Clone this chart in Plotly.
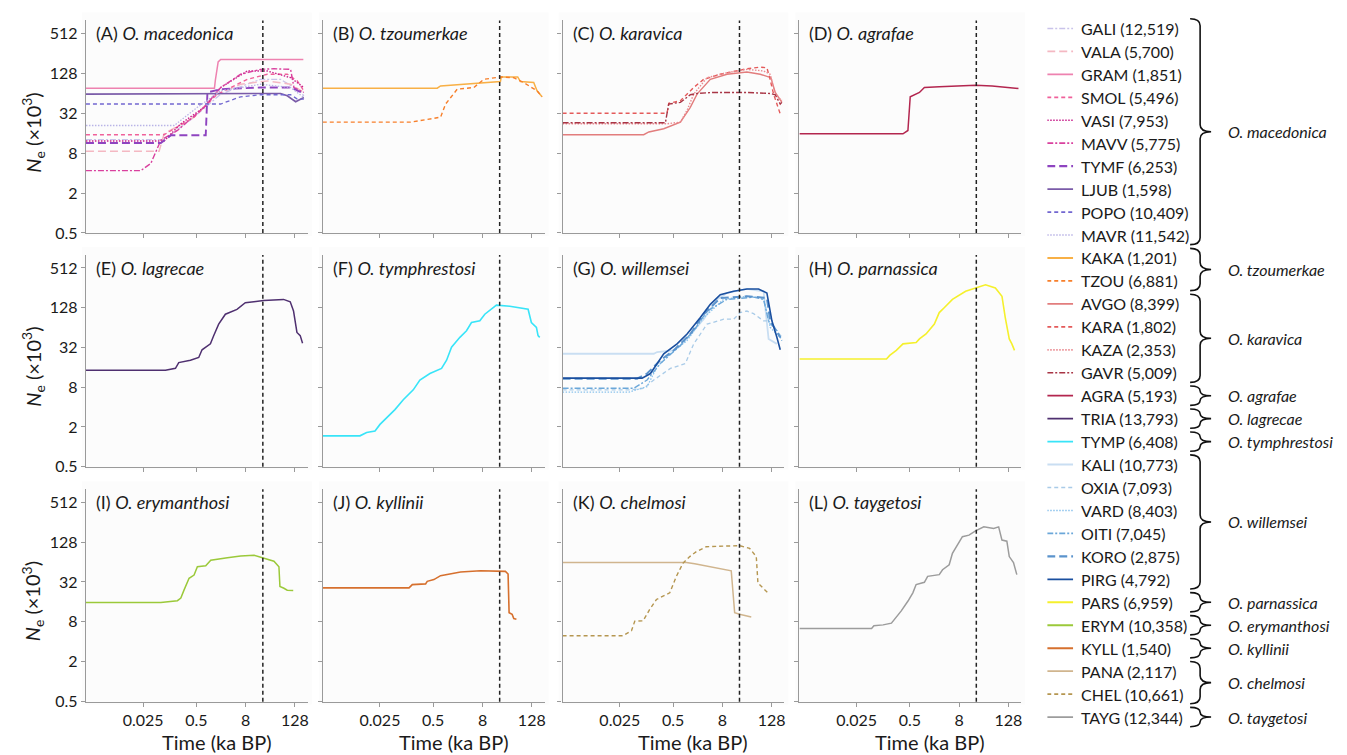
import plotly.graph_objects as go

W, H = 1347, 755

# ---------------- data: time (ka BP) and Ne (x10^3) ----------------
# (A) O. macedonica
GALI_t = [0.001, 0.0813, 0.438, 1.96, 18.5, 57, 175, 211]
GALI_ne = [12.8, 12.8, 27.9, 62.2, 104, 104, 68, 58.7]
VALA_t = [0.001, 0.0614, 0.0813, 0.438, 1.35, 6.03, 27, 100, 211]
VALA_ne = [8.57, 8.57, 15.7, 27.9, 58.7, 87.7, 98.3, 87.7, 65.9]
GRAM_t = [0.001, 1.38, 1.45, 1.7, 1.96, 205]
GRAM_ne = [76.4, 76.4, 100, 190, 207, 207]
SMOL_t = [0.001, 0.0813, 0.438, 1.63, 8.77, 27, 83, 146, 211]
SMOL_ne = [15.2, 15.2, 27.9, 62.2, 104, 124, 124, 98.3, 69.7]
VASI_t = [0.001, 0.0813, 0.2075, 0.769, 1.96, 8.77, 27, 100, 211]
VASI_ne = [12.2, 12.2, 22.2, 39.3, 78.2, 139, 139, 110, 78.2]
MAVV_t = [0.001, 0.0219, 0.0385, 0.0675, 0.172, 0.301, 0.769, 1.96, 6.03, 18.5, 39.2, 100, 110, 121, 211]
MAVV_ne = [4.36, 4.36, 5.61, 12.5, 17.6, 23.5, 39.3, 78.2, 124, 147, 150, 147, 110, 78.2, 65.9]
TYMF_t = [0.001, 0.0675, 0.12, 0.845, 0.93, 1.96, 18.5, 100, 211]
TYMF_ne = [11.4, 11.4, 14.9, 14.9, 65.9, 73.9, 78.2, 78.2, 63.6]
LJUB_t = [0.001, 0.93, 57, 83, 133, 211]
LJUB_ne = [62.2, 63, 63.6, 58.7, 47.8, 55.4]
POPO_t = [0.001, 1.96, 6.03, 18.5, 100, 146, 211]
POPO_ne = [44.1, 44.1, 56.7, 60.8, 60.8, 52.4, 52.4]
MAVR_t = [0.001, 0.143, 0.528, 1.96, 18.5, 100, 211]
MAVR_ne = [20.9, 20.9, 39.3, 69.7, 87.7, 78.2, 55.4]
# (B) O. tzoumerkae
KAKA_t = [0.001, 0.626, 0.755, 21.9, 23, 58, 67.4, 142.6, 172, 228]
KAKA_ne = [76.4, 76.4, 82.8, 96.1, 113, 113, 96.1, 92.9, 69.7, 56.7]
TZOU_t = [0.001, 0.14, 0.755, 1.0, 1.93, 4.9, 8.6, 21.9, 46.4, 81.3, 172, 228]
TZOU_ne = [23.5, 23.5, 27.9, 44.1, 73.9, 78.2, 104, 113, 110, 92.9, 69.7, 56.7]
# (C) O. karavica
AVGO_t = [0.001, 0.096, 0.128, 0.296, 0.755, 1.32, 1.93, 4.07, 10.4, 31.9, 67.4, 123, 157, 228]
AVGO_ne = [15.2, 15.2, 16.7, 18.7, 23.5, 39.3, 62.2, 104, 124, 134, 124, 110, 65.9, 46.7]
KARA_t = [0.001, 0.357, 0.392, 0.755, 1.0, 1.6, 2.8, 7.13, 31.9, 67.4, 98.1, 112, 143, 208]
KARA_ne = [32, 32, 45.1, 49.5, 58.7, 78.2, 104, 124, 150, 159, 155, 117, 62.2, 31.3]
KAZA_t = [0.001, 0.357, 0.755, 1.1, 1.6, 3.38, 10.4, 31.9, 81.3, 118, 157, 228]
KAZA_ne = [22.2, 22.2, 23.5, 35.5, 62.2, 110, 131, 147, 139, 124, 62.2, 50]
GAVR_t = [0.001, 0.325, 0.392, 0.755, 1.32, 1.93, 4.9, 31.9, 118, 157, 208, 228]
GAVR_ne = [23, 23, 44.1, 46.7, 60.8, 63.6, 65.9, 65.9, 63.6, 60.8, 44.1, 46.7]
# (D) O. agrafae
AGRA_t = [0.001, 0.339, 0.448, 0.51, 0.857, 1.13, 2.61, 7.96, 20.1, 51, 107, 225]
AGRA_ne = [15.7, 15.7, 17.6, 56.7, 65.9, 78.2, 80, 83.7, 84.7, 82.8, 80, 75.6]
# (E) O. lagrecae
TRIA_t = [0.001, 0.0877, 0.154, 0.185, 0.357, 0.57, 0.687, 1.1, 1.32, 1.75, 2.55, 4.9, 7.83, 21.9, 67.4, 98, 118, 143, 172, 196]
TRIA_ne = [14.5, 14.5, 15.5, 18.9, 20.5, 22.6, 29.5, 36.3, 48.3, 72.2, 102, 121, 152, 165, 171, 157, 114, 54, 48.4, 37.1]
# (F) O. tymphrestosi
TYMP_t = [0.001, 0.0081, 0.0118, 0.0189, 0.025, 0.0399, 0.058, 0.0927, 0.1625, 0.236, 0.415, 0.798, 1.06, 1.4,
          2.24, 3.25, 4.3, 6.88, 9.1, 17.5, 37.1, 104, 125, 166, 182, 200]
TYMP_ne = [1.47, 1.47, 1.65, 1.74, 2.19, 2.92, 3.67, 5.18, 7.3, 10.3, 12.9, 15.4, 20.5, 32.4,
           45.6, 57.4, 76.4, 81, 102, 140, 135, 121, 76.4, 64.4, 48.3, 45.6]
# (G) O. willemsei
KALI_t = [0.001, 0.169, 0.204, 0.519, 0.755, 1.6, 2.8, 5.92, 10.4, 31.9, 81.3, 108, 172]
KALI_ne = [25.7, 25.7, 27.3, 28.9, 34.3, 57.4, 85.7, 171, 214, 246, 227, 43.1, 36.3]
OXIA_t = [0.001, 0.0455, 0.0963, 0.169, 0.43, 1.0, 1.6, 3.38, 8.61, 15.1, 21.9, 31.9, 46.4, 81.3, 98.1, 172, 228]
OXIA_ne = [7.3, 7.3, 7.73, 10.3, 15.4, 18.3, 36.3, 72.2, 85.7, 85.7, 108, 114, 104, 81, 81, 57.4, 45.6]
VARD_t = [0.001, 0.0415, 0.116, 0.204, 0.43, 1.1, 2.8, 8.61, 31.9, 81.3, 118, 208]
VARD_ne = [6.74, 6.74, 8.18, 16.3, 25.7, 40.7, 90.8, 171, 191, 180, 64.4, 45.6]
OITI_t = [0.001, 0.055, 0.116, 0.245, 0.755, 1.6, 3.38, 10.4, 46.4, 81.3, 108, 172, 228]
OITI_ne = [7.73, 7.73, 10.3, 18.3, 34.3, 57.4, 114, 171, 185, 171, 81, 57.4, 40.7]
KORO_t = [0.001, 0.0662, 0.116, 0.245, 0.519, 1.32, 2.8, 7.13, 31.9, 98.1, 118, 208]
KORO_ne = [10.8, 10.8, 12.9, 20.5, 28.9, 51.2, 102, 180, 191, 180, 81, 45.6]
PIRG_t = [0.001, 0.0877, 0.14, 0.296, 0.626, 1.1, 2.32, 4.07, 7.13, 15.1, 31.9, 61.4, 98.1, 130, 172, 208]
PIRG_ne = [11.0, 11.0, 12.9, 25.7, 36.3, 51.2, 90.8, 144, 202, 227, 246, 246, 214, 81, 45.6, 29.5]
# (H) O. parnassica
PARS_t = [0.001, 0.134, 0.161, 0.233, 0.339, 0.711, 0.857, 1.24, 1.98, 2.61, 3.45, 5.48, 11.5, 22.1, 35.2,
          61.4, 88.9, 107, 134, 155, 180]
PARS_ne = [21.4, 21.4, 24.3, 28.9, 36.3, 38, 43.1, 51.2, 72.2, 108, 128, 171, 227, 260, 285,
           254, 191, 90.8, 43.1, 36.3, 28.9]
# (I) O. erymanthosi
ERYM_t = [0.001, 0.0675, 0.172, 0.208, 0.25, 0.331, 0.438, 0.528, 0.845, 1.12, 2.85, 6.03, 12.8, 22.4,
          39.2, 51.9, 54.9, 68.7, 82.8, 116]
ERYM_ne = [15.7, 15.7, 16.7, 18.3, 24.3, 36.3, 40.7, 54.2, 56.1, 68.2, 73.9, 79.1, 81, 73.9,
           65.9, 54.2, 27.3, 25.7, 24, 23.7]
# (J) O. kyllinii
KYLL_t = [0.001, 0.128, 0.154, 0.325, 0.357, 0.519, 0.755, 1.32, 2.32, 7.13, 21.9, 29, 33.7, 35.7, 42.3, 46.4, 53.9]
KYLL_ne = [26, 26, 29.2, 29.9, 32.7, 34.7, 39.8, 42.6, 45.1, 47.2, 47.2, 46.2, 42.1, 11, 10.4, 8.97, 8.77]
# (K) O. chelmosi
PANA_t = [0.001, 1.06, 1.69, 3.25, 6.88, 13.2, 16, 21.1, 40.7]
PANA_ne = [62.9, 62.9, 60.1, 56.1, 51.8, 47.2, 11.0, 10.4, 9.5]
CHEL_t = [0.001, 0.0302, 0.0482, 0.058, 0.0927, 0.135, 0.196, 0.415, 0.602, 0.877, 1.28, 1.85, 3.25, 9.98,
          21.1, 37.1, 54, 59.2, 78.4, 104]
CHEL_ne = [4.94, 4.94, 5.87, 8.18, 8.28, 12.4, 17.4, 21.9, 38.9, 61.5, 77.3, 91.8, 109, 113,
           113, 103, 77.3, 30.9, 26, 21.9]
# (L) O. taygetosi
TAYG_t = [0.001, 0.058, 0.066, 0.111, 0.177, 0.233, 0.308, 0.45, 0.591, 0.711, 1.13, 1.36, 2.61, 3.14, 4.56,
          5.48, 7.25, 9.6, 13.9, 20.1, 32, 55.8, 73.8, 88.9, 117, 134, 170, 205]
TAYG_ne = [6.36, 6.36, 6.97, 7.2, 7.64, 9.28, 11.7, 16.5, 21.9, 29.2, 31.6, 38.9, 41.2, 48.9, 58.1,
           86.7, 115, 154, 163, 189, 217, 205, 217, 137, 132, 77.3, 62.9, 41.2]

# population codes, sample sizes, panel index
CODES = ["GALI", "VALA", "GRAM", "SMOL", "VASI", "MAVV", "TYMF", "LJUB", "POPO", "MAVR",
         "KAKA", "TZOU", "AVGO", "KARA", "KAZA", "GAVR", "AGRA", "TRIA", "TYMP",
         "KALI", "OXIA", "VARD", "OITI", "KORO", "PIRG", "PARS", "ERYM", "KYLL", "PANA", "CHEL", "TAYG"]
SIZES = ["12,519", "5,700", "1,851", "5,496", "7,953", "5,775", "6,253", "1,598", "10,409", "11,542",
         "1,201", "6,881", "8,399", "1,802", "2,353", "5,009", "5,193", "13,793", "6,408",
         "10,773", "7,093", "8,403", "7,045", "2,875", "4,792", "6,959", "10,358", "1,540", "2,117", "10,661", "12,344"]
PANEL = [0] * 10 + [1] * 2 + [2] * 4 + [3, 4, 5] + [6] * 6 + [7, 8, 9, 10, 10, 11]

PANEL_TITLES = [("A", "O. macedonica"), ("B", "O. tzoumerkae"), ("C", "O. karavica"), ("D", "O. agrafae"),
                ("E", "O. lagrecae"), ("F", "O. tymphrestosi"), ("G", "O. willemsei"), ("H", "O. parnassica"),
                ("I", "O. erymanthosi"), ("J", "O. kyllinii"), ("K", "O. chelmosi"), ("L", "O. taygetosi")]
GROUPS = [("O. macedonica", 0, 9), ("O. tzoumerkae", 10, 11), ("O. karavica", 12, 15), ("O. agrafae", 16, 16),
          ("O. lagrecae", 17, 17), ("O. tymphrestosi", 18, 18), ("O. willemsei", 19, 24),
          ("O. parnassica", 25, 25), ("O. erymanthosi", 26, 26), ("O. kyllinii", 27, 27),
          ("O. chelmosi", 28, 29), ("O. taygetosi", 30, 30)]

X_TICKS = [0.025, 0.5, 8, 128]
X_TICKTEXT = ["0.025", "0.5", "8", "128"]
Y_TICKS = [0.5, 2, 8, 32, 128, 512]
Y_TICKTEXT = ["0.5", "2", "8", "32", "128", "512"]
LGM = 21

# ---------------- styles ----------------
SDASH = "4px,3px"
LDASH = "8px,4px"
DOT = "1.5px,1.5px"
DDOT = "6px,2px,2px,2px"
STYLE = {
    "GALI": ("#c9c3ea", DDOT, 1.3), "VALA": ("#f4b8c2", LDASH, 1.5), "GRAM": ("#ee82b0", "solid", 1.5),
    "SMOL": ("#f0609a", SDASH, 1.4), "VASI": ("#c8208c", DOT, 1.4), "MAVV": ("#d9409e", DDOT, 1.4),
    "TYMF": ("#8e44c0", LDASH, 1.9), "LJUB": ("#7a5ba8", "solid", 1.6), "POPO": ("#7166d0", SDASH, 1.3),
    "MAVR": ("#b9b3e6", DOT, 1.3), "KAKA": ("#f8b046", "solid", 1.5), "TZOU": ("#f77f2a", SDASH, 1.4),
    "AVGO": ("#e27d7d", "solid", 1.4), "KARA": ("#e45a5a", SDASH, 1.4), "KAZA": ("#ea8a90", DOT, 1.4),
    "GAVR": ("#a83545", DDOT, 1.4), "AGRA": ("#b3264f", "solid", 1.5), "TRIA": ("#4f3070", "solid", 1.5),
    "TYMP": ("#38e4f8", "solid", 1.6), "KALI": ("#c9def2", "solid", 1.8), "OXIA": ("#a9cbe8", SDASH, 1.3),
    "VARD": ("#8ac2ec", DOT, 1.3), "OITI": ("#6ba7d9", DDOT, 1.4), "KORO": ("#5b93cc", LDASH, 2.0),
    "PIRG": ("#1a4f9f", "solid", 1.6), "PARS": ("#f5f02c", "solid", 1.6), "ERYM": ("#9bc93a", "solid", 1.5),
    "KYLL": ("#d6702e", "solid", 1.6), "PANA": ("#d0b58e", "solid", 1.5), "CHEL": ("#b59650", SDASH, 1.4),
    "TAYG": ("#9c9c9c", "solid", 1.5),
}

DATA = {c: (globals()[c + "_t"], globals()[c + "_ne"]) for c in CODES}

FONT = "Lato"
TXT = "#1a1a1a"
AX = "#9a9a9a"

COL_PX = [(78, 300), (315, 537), (555, 777), (792, 1014)]
ROW_PX = [(12.6, 227.7), (250, 464.3), (487, 702)]


def fx(p):
    return p / W


def fy(p):
    return 1 - p / H


fig = go.Figure()
layout = dict(width=W, height=H, margin=dict(l=0, r=0, t=0, b=0), paper_bgcolor="white",
              plot_bgcolor="rgba(0,0,0,0)", showlegend=False, font=dict(family=FONT, color=TXT))
shapes, annots = [], []

for k in range(12):
    r, c = divmod(k, 4)
    sfx = "" if k == 0 else str(k + 1)
    x0, x1 = COL_PX[c]
    y0, y1 = ROW_PX[r]
    layout["xaxis" + sfx] = dict(
        domain=[fx(x0), fx(x1)], type="log", range=[-3, 2.42], anchor="y" + sfx,
        tickvals=X_TICKS, ticktext=X_TICKTEXT, showticklabels=(r == 2), ticks="outside", ticklen=4,
        tickcolor=AX, showline=True, linecolor=AX, linewidth=1.2, showgrid=False, zeroline=False,
        tickfont=dict(size=16, color=TXT, family=FONT))
    layout["yaxis" + sfx] = dict(
        domain=[fy(y1), fy(y0)], type="log", range=[-0.30103, 2.905], anchor="x" + sfx,
        tickvals=Y_TICKS, ticktext=Y_TICKTEXT, showticklabels=(c == 0), ticks="outside", ticklen=4,
        tickcolor=AX, showline=True, linecolor=AX, linewidth=1.2, showgrid=False, zeroline=False,
        tickfont=dict(size=16, color=TXT, family=FONT))
    # faint panel background
    shapes.append(dict(type="rect", xref="paper", yref="paper", x0=fx(x0 - 4), x1=fx(x1 + 4),
                       y0=fy(y1 + 3), y1=fy(y0 - 8), fillcolor="#fcfcfc", line=dict(width=0), layer="below"))
    # LGM dashed line
    shapes.append(dict(type="line", xref="x" + sfx, yref="y" + sfx + " domain", x0=LGM, x1=LGM, y0=0, y1=1,
                       line=dict(color="#222222", width=1.5, dash="4px,3px")))
    letter, sp = PANEL_TITLES[k]
    annots.append(dict(text=f"({letter}) <i>{sp}</i>", xref="paper", yref="paper", x=fx(x0 + 8), y=fy(y0 + 13),
                       xanchor="left", yanchor="middle", showarrow=False, font=dict(size=18, color=TXT, family=FONT)))
    if r == 2:
        annots.append(dict(text="Time (ka BP)", xref="paper", yref="paper", x=fx(x0 + 131), y=fy(743),
                           xanchor="center", yanchor="middle", showarrow=False,
                           font=dict(size=20, color=TXT, family=FONT)))
    if c == 0:
        annots.append(dict(text="<i>N</i><sub>e</sub> (×10<sup>3</sup>)", xref="paper", yref="paper", x=fx(25),
                           y=fy((y0 + y1) / 2 + 6), xanchor="center", yanchor="middle", textangle=-90,
                           showarrow=False, font=dict(size=20, color=TXT, family=FONT)))

# curves
for i, code in enumerate(CODES):
    k = PANEL[i]
    sfx = "" if k == 0 else str(k + 1)
    col, dash, wd = STYLE[code]
    t, ne = DATA[code]
    fig.add_trace(go.Scatter(x=t, y=ne, mode="lines", xaxis="x" + sfx, yaxis="y" + sfx, name=code,
                             line=dict(color=col, dash=dash, width=wd)))

# legend (drawn on a hidden axis)
LEG_TOP, LEG_STEP = 20.7, 23.23
n = len(CODES)
layout["xaxis13"] = dict(domain=[fx(1040), fx(1066)], range=[0, 1], visible=False, anchor="y13")
layout["yaxis13"] = dict(domain=[fy(LEG_TOP + (n - 0.5) * LEG_STEP), fy(LEG_TOP - 0.5 * LEG_STEP)],
                         range=[n - 0.5, -0.5], visible=False, anchor="x13")
for i, code in enumerate(CODES):
    col, dash, wd = STYLE[code]
    fig.add_trace(go.Scatter(x=[0, 1], y=[i, i], mode="lines", xaxis="x13", yaxis="y13",
                             line=dict(color=col, dash=dash, width=wd + 0.3), hoverinfo="skip"))
    annots.append(dict(text=f"{code} ({SIZES[i]})", xref="paper", yref="y13", x=fx(1072), y=i,
                       xanchor="left", yanchor="middle", showarrow=False,
                       font=dict(size=16, color=TXT, family=FONT)))

# braces
bx0, bx1, bx2 = fx(1183), fx(1193), fx(1204)
for sp, a, b in GROUPS:
    top, bot = a - 0.42, b + 0.42
    mid = (a + b) / 2
    rr = min(0.3, (mid - top) / 2)
    path = (f"M {bx0},{top} Q {bx1},{top} {bx1},{top + rr} L {bx1},{mid - rr} "
            f"Q {bx1},{mid} {bx2},{mid} Q {bx1},{mid} {bx1},{mid + rr} "
            f"L {bx1},{bot - rr} Q {bx1},{bot} {bx0},{bot}")
    shapes.append(dict(type="path", xref="paper", yref="y13", path=path, line=dict(color="#111111", width=1.6)))
    annots.append(dict(text=f"<i>{sp}</i>", xref="paper", yref="y13", x=fx(1219), y=mid,
                       xanchor="left", yanchor="middle", showarrow=False,
                       font=dict(size=16, color=TXT, family=FONT)))

layout["shapes"] = shapes
layout["annotations"] = annots
fig.update_layout(**layout)
fig.write_html("out.html")
